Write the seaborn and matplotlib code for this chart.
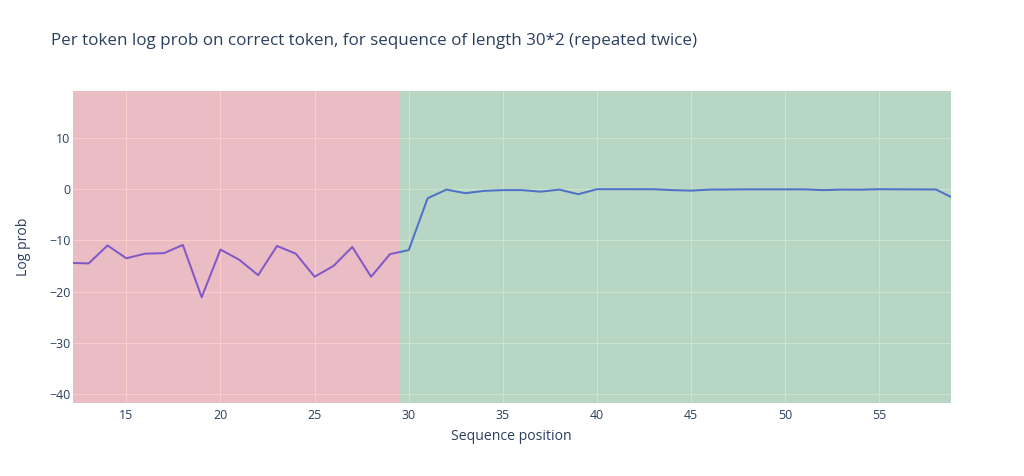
import matplotlib
matplotlib.use("Agg")
import matplotlib.pyplot as plt
import seaborn as sns
import pandas as pd

positions = list(range(12, 60))
log_probs = [-14.4, -14.5, -11.0, -13.5, -12.6, -12.5, -10.9, -21.1, -11.8, -13.8,
             -16.8, -11.1, -12.6, -17.1, -15.0, -11.3, -17.1, -12.7, -11.9, -1.8,
             -0.1, -0.8, -0.35, -0.2, -0.2, -0.5, -0.1, -1.0, -0.02, -0.02,
             -0.02, -0.03, -0.2, -0.3, -0.1, -0.08, -0.05, -0.05, -0.05, -0.05,
             -0.2, -0.1, -0.12, -0.02, -0.05, -0.06, -0.08, -1.9]
x_ticks = [15, 20, 25, 30, 35, 40, 45, 50, 55]
y_ticks = [-40, -30, -20, -10, 0, 10]
title = "Per token log prob on correct token, for sequence of length 30*2 (repeated twice)"

df = pd.DataFrame({"Sequence position": positions, "Log prob": log_probs})

sns.set_theme(style="white")
plt.rcParams["font.family"] = ["Open Sans", "DejaVu Sans"]
text_color = "#2a3f5f"

fig = plt.figure(figsize=(10.24, 4.76), dpi=100)
ax = fig.add_axes([72.5 / 1024, 1 - 403.3 / 476, (951 - 72.5) / 1024, (403.3 - 90.7) / 476])
ax.set_facecolor("#E5ECF6")

sns.lineplot(data=df, x="Sequence position", y="Log prob", ax=ax,
             color="#636EFA", linewidth=1.44, zorder=3)

ax.axvspan(-1, 29.5, color="red", alpha=0.2, lw=0, zorder=4)
ax.axvspan(29.5, 70, color="green", alpha=0.2, lw=0, zorder=4)

ax.set_xlim(12.14, 58.8)
ax.set_ylim(-41.8, 19.2)
ax.set_xticks(x_ticks)
ax.set_yticks(y_ticks)
ax.grid(True, color="white", linewidth=0.75, zorder=1)
ax.set_axisbelow(True)
for s in ax.spines.values():
    s.set_visible(False)

ax.tick_params(axis="both", length=0, labelsize=8.9, labelcolor=text_color)
ax.tick_params(axis="x", pad=4)
ax.tick_params(axis="y", pad=1.5)

ax.set_xlabel("Sequence position", fontsize=10.08, color=text_color, labelpad=5)
ax.set_ylabel("Log prob", fontsize=10.08, color=text_color, labelpad=13)

fig.text(51 / 1024, 1 - 41 / 476, title, fontsize=12.24, color=text_color,
         ha="left", va="center")

fig.savefig("out.png", dpi=100)
